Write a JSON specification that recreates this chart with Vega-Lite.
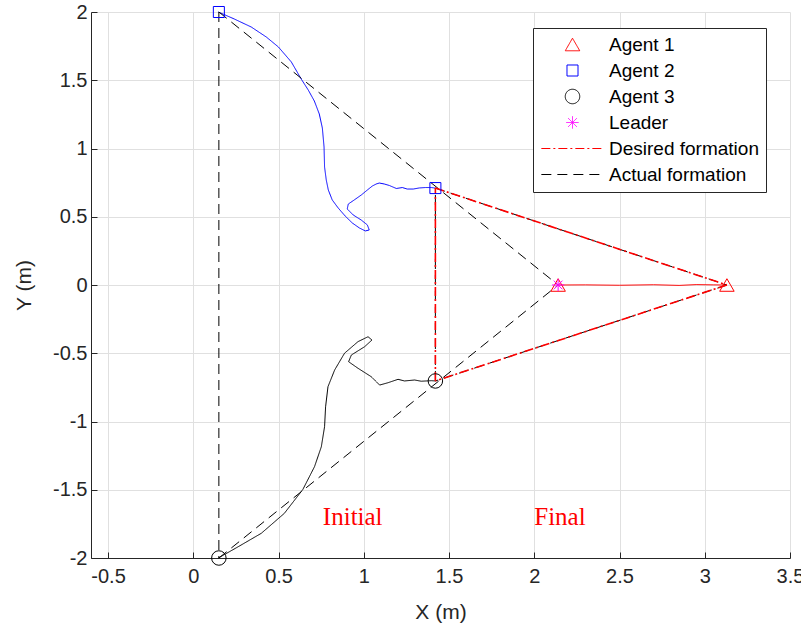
{
  "$schema": "https://vega.github.io/schema/vega-lite/v6.json",
  "width": 699,
  "height": 546,
  "autosize": {"type": "none"},
  "padding": {"left": 91, "top": 12, "right": 11, "bottom": 68},
  "background": "white",
  "config": {
    "view": {"stroke": null},
    "axis": {
      "domainColor": "#262626", "domainWidth": 1,
      "tickColor": "#262626", "tickSize": -6,
      "labelFont": "Liberation Sans", "labelFontSize": 20, "labelColor": "#262626",
      "titleFont": "Liberation Sans", "titleFontSize": 21, "titleFontWeight": "normal", "titleColor": "#262626",
      "gridColor": "#e0e0e0", "gridWidth": 1,
      "labelOverlap": false, "labelFlush": false, "labelBound": false
    },
    "legend": {
      "orient": "none", "legendX": 442, "legendY": 16,
      "padding": 7, "strokeColor": "#262626", "fillColor": "white",
      "labelFont": "Liberation Sans", "labelFontSize": 19, "labelColor": "#000000",
      "symbolSize": 210, "symbolStrokeWidth": 1, "symbolOffset": 23, "labelOffset": 27,
      "rowPadding": 6, "symbolFillColor": "transparent"
    }
  },
  "datasets": {
    "traj": [
      {"series": "Agent 1", "i": 0, "x": 2.14, "y": 0.0},
      {"series": "Agent 1", "i": 1, "x": 2.3, "y": 0.001},
      {"series": "Agent 1", "i": 2, "x": 2.5, "y": -0.002},
      {"series": "Agent 1", "i": 3, "x": 2.7, "y": 0.002},
      {"series": "Agent 1", "i": 4, "x": 2.85, "y": -0.003},
      {"series": "Agent 1", "i": 5, "x": 2.95, "y": 0.003},
      {"series": "Agent 1", "i": 6, "x": 3.05, "y": 0.001},
      {"series": "Agent 1", "i": 7, "x": 3.13, "y": 0.0},

      {"series": "Agent 2", "i": 0, "x": 0.147, "y": 2.0},
      {"series": "Agent 2", "i": 1, "x": 0.24, "y": 1.949},
      {"series": "Agent 2", "i": 2, "x": 0.34, "y": 1.89},
      {"series": "Agent 2", "i": 3, "x": 0.428, "y": 1.817},
      {"series": "Agent 2", "i": 4, "x": 0.499, "y": 1.744},
      {"series": "Agent 2", "i": 5, "x": 0.575, "y": 1.634},
      {"series": "Agent 2", "i": 6, "x": 0.633, "y": 1.509},
      {"series": "Agent 2", "i": 7, "x": 0.674, "y": 1.429},
      {"series": "Agent 2", "i": 8, "x": 0.71, "y": 1.348},
      {"series": "Agent 2", "i": 9, "x": 0.739, "y": 1.253},
      {"series": "Agent 2", "i": 10, "x": 0.757, "y": 1.15},
      {"series": "Agent 2", "i": 11, "x": 0.767, "y": 1.011},
      {"series": "Agent 2", "i": 12, "x": 0.77, "y": 0.864},
      {"series": "Agent 2", "i": 13, "x": 0.78, "y": 0.769},
      {"series": "Agent 2", "i": 14, "x": 0.792, "y": 0.696},
      {"series": "Agent 2", "i": 15, "x": 0.815, "y": 0.623},
      {"series": "Agent 2", "i": 16, "x": 0.85, "y": 0.564},
      {"series": "Agent 2", "i": 17, "x": 0.891, "y": 0.505},
      {"series": "Agent 2", "i": 18, "x": 0.933, "y": 0.454},
      {"series": "Agent 2", "i": 19, "x": 0.974, "y": 0.418},
      {"series": "Agent 2", "i": 20, "x": 1.009, "y": 0.396},
      {"series": "Agent 2", "i": 21, "x": 1.032, "y": 0.403},
      {"series": "Agent 2", "i": 22, "x": 1.021, "y": 0.44},
      {"series": "Agent 2", "i": 23, "x": 0.985, "y": 0.476},
      {"series": "Agent 2", "i": 24, "x": 0.938, "y": 0.513},
      {"series": "Agent 2", "i": 25, "x": 0.903, "y": 0.557},
      {"series": "Agent 2", "i": 26, "x": 0.909, "y": 0.593},
      {"series": "Agent 2", "i": 27, "x": 0.944, "y": 0.623},
      {"series": "Agent 2", "i": 28, "x": 0.985, "y": 0.659},
      {"series": "Agent 2", "i": 29, "x": 1.021, "y": 0.696},
      {"series": "Agent 2", "i": 30, "x": 1.05, "y": 0.725},
      {"series": "Agent 2", "i": 31, "x": 1.073, "y": 0.74},
      {"series": "Agent 2", "i": 32, "x": 1.091, "y": 0.747},
      {"series": "Agent 2", "i": 33, "x": 1.12, "y": 0.74},
      {"series": "Agent 2", "i": 34, "x": 1.15, "y": 0.729},
      {"series": "Agent 2", "i": 35, "x": 1.191, "y": 0.707},
      {"series": "Agent 2", "i": 36, "x": 1.226, "y": 0.714},
      {"series": "Agent 2", "i": 37, "x": 1.255, "y": 0.703},
      {"series": "Agent 2", "i": 38, "x": 1.29, "y": 0.703},
      {"series": "Agent 2", "i": 39, "x": 1.326, "y": 0.711},
      {"series": "Agent 2", "i": 40, "x": 1.361, "y": 0.714},
      {"series": "Agent 2", "i": 41, "x": 1.396, "y": 0.714},
      {"series": "Agent 2", "i": 42, "x": 1.42, "y": 0.71},

      {"series": "Agent 3", "i": 0, "x": 0.147, "y": -2.0},
      {"series": "Agent 3", "i": 1, "x": 0.264, "y": -1.917},
      {"series": "Agent 3", "i": 2, "x": 0.399, "y": -1.819},
      {"series": "Agent 3", "i": 3, "x": 0.534, "y": -1.673},
      {"series": "Agent 3", "i": 4, "x": 0.643, "y": -1.497},
      {"series": "Agent 3", "i": 5, "x": 0.711, "y": -1.331},
      {"series": "Agent 3", "i": 6, "x": 0.751, "y": -1.185},
      {"series": "Agent 3", "i": 7, "x": 0.77, "y": -1.038},
      {"series": "Agent 3", "i": 8, "x": 0.776, "y": -0.892},
      {"series": "Agent 3", "i": 9, "x": 0.79, "y": -0.745},
      {"series": "Agent 3", "i": 10, "x": 0.829, "y": -0.623},
      {"series": "Agent 3", "i": 11, "x": 0.887, "y": -0.5},
      {"series": "Agent 3", "i": 12, "x": 0.966, "y": -0.415},
      {"series": "Agent 3", "i": 13, "x": 1.025, "y": -0.379},
      {"series": "Agent 3", "i": 14, "x": 1.048, "y": -0.403},
      {"series": "Agent 3", "i": 15, "x": 1.005, "y": -0.452},
      {"series": "Agent 3", "i": 16, "x": 0.927, "y": -0.513},
      {"series": "Agent 3", "i": 17, "x": 0.911, "y": -0.562},
      {"series": "Agent 3", "i": 18, "x": 0.966, "y": -0.61},
      {"series": "Agent 3", "i": 19, "x": 1.044, "y": -0.672},
      {"series": "Agent 3", "i": 20, "x": 1.093, "y": -0.733},
      {"series": "Agent 3", "i": 21, "x": 1.142, "y": -0.716},
      {"series": "Agent 3", "i": 22, "x": 1.201, "y": -0.691},
      {"series": "Agent 3", "i": 23, "x": 1.239, "y": -0.703},
      {"series": "Agent 3", "i": 24, "x": 1.298, "y": -0.696},
      {"series": "Agent 3", "i": 25, "x": 1.337, "y": -0.705},
      {"series": "Agent 3", "i": 26, "x": 1.396, "y": -0.701},
      {"series": "Agent 3", "i": 27, "x": 1.42, "y": -0.703}
    ],
    "actual": [
      {"series": "Actual formation", "seg": "i1", "i": 0, "x": 0.15, "y": 2.0},
      {"series": "Actual formation", "seg": "i1", "i": 1, "x": 0.15, "y": -2.0},
      {"series": "Actual formation", "seg": "i2", "i": 0, "x": 0.15, "y": 2.0},
      {"series": "Actual formation", "seg": "i2", "i": 1, "x": 2.14, "y": 0.0},
      {"series": "Actual formation", "seg": "i3", "i": 0, "x": 0.15, "y": -2.0},
      {"series": "Actual formation", "seg": "i3", "i": 1, "x": 2.14, "y": 0.0},
      {"series": "Actual formation", "seg": "f1", "i": 0, "x": 1.42, "y": 0.71},
      {"series": "Actual formation", "seg": "f1", "i": 1, "x": 3.13, "y": 0.0},
      {"series": "Actual formation", "seg": "f2", "i": 0, "x": 3.13, "y": 0.0},
      {"series": "Actual formation", "seg": "f2", "i": 1, "x": 1.42, "y": -0.703},
      {"series": "Actual formation", "seg": "f3", "i": 0, "x": 1.42, "y": -0.703},
      {"series": "Actual formation", "seg": "f3", "i": 1, "x": 1.42, "y": 0.71}
    ],
    "desired": [
      {"series": "Desired formation", "seg": "d1", "i": 0, "x": 1.42, "y": 0.71},
      {"series": "Desired formation", "seg": "d1", "i": 1, "x": 3.13, "y": 0.0},
      {"series": "Desired formation", "seg": "d2", "i": 0, "x": 3.13, "y": 0.0},
      {"series": "Desired formation", "seg": "d2", "i": 1, "x": 1.42, "y": -0.703},
      {"series": "Desired formation", "seg": "d3", "i": 0, "x": 1.42, "y": -0.703},
      {"series": "Desired formation", "seg": "d3", "i": 1, "x": 1.42, "y": 0.71}
    ],
    "pts": [
      {"series": "Agent 1", "x": 2.14, "y": 0.0},
      {"series": "Agent 1", "x": 3.13, "y": 0.0},
      {"series": "Agent 2", "x": 0.15, "y": 2.0},
      {"series": "Agent 2", "x": 1.42, "y": 0.71},
      {"series": "Agent 3", "x": 0.15, "y": -2.0},
      {"series": "Agent 3", "x": 1.42, "y": -0.703},
      {"series": "Leader", "x": 2.14, "y": 0.0}
    ],
    "txt": [
      {"label": "Initial", "x": 0.76, "y": -1.7},
      {"label": "Final", "x": 2.0, "y": -1.7}
    ]
  },
  "encoding": {
    "x": {"field": "x", "type": "quantitative",
      "scale": {"domain": [-0.6, 3.5], "nice": false, "zero": false},
      "axis": {"title": "X (m)", "values": [-0.5, 0, 0.5, 1, 1.5, 2, 2.5, 3, 3.5], "labelExpr": "'' + datum.value", "grid": true, "labelPadding": 14, "titlePadding": 15}},
    "y": {"field": "y", "type": "quantitative",
      "scale": {"domain": [-2, 2], "nice": false, "zero": false},
      "axis": {"title": "Y (m)", "values": [-2, -1.5, -1, -0.5, 0, 0.5, 1, 1.5, 2], "labelExpr": "'' + datum.value", "grid": true, "labelPadding": 10, "titlePadding": 18}}
  },
  "layer": [
    {
      "data": {"name": "traj"},
      "mark": {"type": "line", "strokeWidth": 1, "opacity": 1},
      "encoding": {
        "order": {"field": "i", "type": "quantitative"},
        "color": {"field": "series", "type": "nominal", "title": null,
          "scale": {"domain": ["Agent 1", "Agent 2", "Agent 3", "Leader", "Desired formation", "Actual formation"], "range": ["#ff0000", "#0000ff", "#000000", "#ff00ff", "#ff0000", "#000000"]}},
        "strokeDash": {"field": "series", "type": "nominal", "title": null,
          "scale": {"domain": ["Agent 1", "Agent 2", "Agent 3", "Leader", "Desired formation", "Actual formation"], "range": [[1, 0], [1, 0], [1, 0], [1, 0], [9, 3, 2, 3], [10, 6]]}}
      }
    },
    {
      "data": {"name": "actual"},
      "mark": {"type": "line", "strokeWidth": 1, "opacity": 1},
      "encoding": {
        "order": {"field": "i", "type": "quantitative"},
        "detail": {"field": "seg", "type": "nominal"},
        "color": {"field": "series", "type": "nominal", "title": null},
        "strokeDash": {"field": "series", "type": "nominal", "title": null}
      }
    },
    {
      "data": {"name": "desired"},
      "mark": {"type": "line", "strokeWidth": 1.6, "opacity": 1},
      "encoding": {
        "order": {"field": "i", "type": "quantitative"},
        "detail": {"field": "seg", "type": "nominal"},
        "color": {"field": "series", "type": "nominal", "title": null},
        "strokeDash": {"field": "series", "type": "nominal", "title": null}
      }
    },
    {
      "data": {"name": "pts"},
      "mark": {"type": "point", "filled": false, "strokeWidth": 1, "opacity": 1, "size": 210},
      "encoding": {
        "color": {"field": "series", "type": "nominal", "title": null},
        "shape": {"field": "series", "type": "nominal", "title": null,
          "scale": {"domain": ["Agent 1", "Agent 2", "Agent 3", "Leader", "Desired formation", "Actual formation"],
            "range": ["triangle-up", "M-0.76,-0.76H0.76V0.76H-0.76Z", "circle", "M0,-0.85V0.85M-0.85,0H0.85M-0.6,-0.6L0.6,0.6M-0.6,0.6L0.6,-0.6", "M-4.3,0H4.3", "M-4.3,0H4.3"]}}
      }
    },
    {
      "data": {"name": "txt"},
      "mark": {"type": "text", "font": "Liberation Serif", "fontSize": 25, "color": "#ff0000", "align": "left", "baseline": "middle"},
      "encoding": {"text": {"field": "label", "type": "nominal"}}
    }
  ]
}
